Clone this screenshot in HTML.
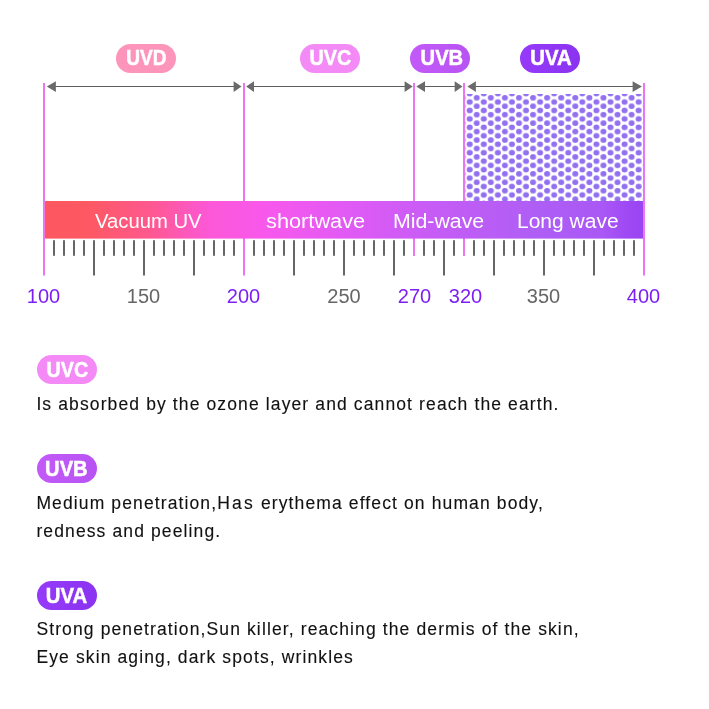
<!DOCTYPE html>
<html lang="en">
<head>
<meta charset="utf-8">
<title>UV spectrum</title>
<style>
html,body{margin:0;padding:0;background:#fff;}
body{width:709px;height:709px;position:relative;overflow:hidden;font-family:"Liberation Sans",sans-serif;}
.pill{position:absolute;width:60px;height:28.5px;border-radius:15px;color:#fff;font-weight:bold;font-size:21.2px;line-height:28.5px;text-align:center;-webkit-text-stroke:0.5px #fff;}
.pill span{display:inline-block;transform:scaleX(0.9);transform-origin:50% 50%;}
.uvd{background:#fd95bb;}
.uvc{background:#f48af5;}
.uvb{background:linear-gradient(90deg,#c25af8,#b853f3);}
.uva{background:linear-gradient(90deg,#963afa,#8a33f0);}
.band{position:absolute;top:202.2px;height:38px;line-height:38px;color:#fff;font-size:20px;white-space:nowrap;transform-origin:0 50%;}
.num{position:absolute;top:284px;width:60px;margin-left:-30px;text-align:center;font-size:20px;line-height:24px;color:#666;}
.num.p{color:#7d1ff2;}
.txt{position:absolute;left:36.4px;font-size:17.5px;line-height:28px;letter-spacing:1.12px;color:#111;white-space:nowrap;-webkit-text-stroke:0.12px #111;}
</style>
</head>
<body>
<svg id="dg" width="709" height="709" viewBox="0 0 709 709" style="position:absolute;left:0;top:0">
<defs>
<linearGradient id="bg" x1="45" y1="0" x2="643" y2="0" gradientUnits="userSpaceOnUse">
<stop offset="0" stop-color="#fd5860"/>
<stop offset="0.075" stop-color="#fd5863"/>
<stop offset="0.176" stop-color="#ff5890"/>
<stop offset="0.276" stop-color="#fc58d8"/>
<stop offset="0.368" stop-color="#f858ec"/>
<stop offset="0.51" stop-color="#e05af5"/>
<stop offset="0.66" stop-color="#c45cf5"/>
<stop offset="0.828" stop-color="#ae5ef5"/>
<stop offset="0.93" stop-color="#aa58f5"/>
<stop offset="0.97" stop-color="#a04af5"/>
<stop offset="1" stop-color="#9a44f2"/>
</linearGradient>
<pattern id="dots" x="466.18" y="97.8" width="14.08" height="8.45" patternUnits="userSpaceOnUse">
<ellipse cx="3.52" cy="4.2" rx="3.0" ry="2.8" fill="#9270f0"/>
<ellipse cx="10.56" cy="0" rx="3.0" ry="2.8" fill="#9270f0"/>
<ellipse cx="10.56" cy="8.45" rx="3.0" ry="2.8" fill="#9270f0"/>
</pattern>
</defs>
<rect x="465" y="94" width="177.5" height="108" fill="url(#dots)"/>
<rect x="43" y="83" width="2" height="192.5" fill="#ee75f2"/>
<rect x="243" y="83" width="2" height="192.5" fill="#ee75f2"/>
<rect x="643" y="83" width="2" height="192.5" fill="#ee75f2"/>
<rect x="413" y="83" width="2" height="173" fill="#ee75f2"/>
<rect x="463" y="83" width="2" height="173" fill="#ee75f2"/>
<rect x="54.9" y="86" width="179.75" height="1" fill="#5e5e5e"/>
<path d="M46.8 86.5 L55.9 81.2 L55.9 91.9 Z" fill="#6a6a6a"/>
<path d="M241.5 86.5 L233.65 81.2 L233.65 91.9 Z" fill="#6a6a6a"/>
<rect x="253.0" y="86" width="152.65" height="1" fill="#5e5e5e"/>
<path d="M246.1 86.5 L254.0 81.2 L254.0 91.9 Z" fill="#6a6a6a"/>
<path d="M412.7 86.5 L404.65 81.2 L404.65 91.9 Z" fill="#6a6a6a"/>
<rect x="424.0" y="86" width="31.70" height="1" fill="#5e5e5e"/>
<path d="M416.3 86.5 L425.0 81.2 L425.0 91.9 Z" fill="#6a6a6a"/>
<path d="M462.5 86.5 L454.7 81.2 L454.7 91.9 Z" fill="#6a6a6a"/>
<rect x="474.9" y="86" width="158.70" height="1" fill="#5e5e5e"/>
<path d="M467.4 86.5 L475.9 81.2 L475.9 91.9 Z" fill="#6a6a6a"/>
<path d="M641.9 86.5 L632.6 81.2 L632.6 91.9 Z" fill="#6a6a6a"/>
<rect x="45" y="201" width="598" height="37.6" fill="url(#bg)"/>
<rect x="53.15" y="240.2" width="1.7" height="15.6" fill="#4d4d4d"/>
<rect x="63.15" y="240.2" width="1.7" height="15.6" fill="#4d4d4d"/>
<rect x="73.15" y="240.2" width="1.7" height="15.6" fill="#4d4d4d"/>
<rect x="83.15" y="240.2" width="1.7" height="15.6" fill="#4d4d4d"/>
<rect x="93.15" y="240.2" width="1.7" height="35.3" fill="#4d4d4d"/>
<rect x="103.15" y="240.2" width="1.7" height="15.6" fill="#4d4d4d"/>
<rect x="113.15" y="240.2" width="1.7" height="15.6" fill="#4d4d4d"/>
<rect x="123.15" y="240.2" width="1.7" height="15.6" fill="#4d4d4d"/>
<rect x="133.15" y="240.2" width="1.7" height="15.6" fill="#4d4d4d"/>
<rect x="143.15" y="240.2" width="1.7" height="35.3" fill="#4d4d4d"/>
<rect x="153.15" y="240.2" width="1.7" height="15.6" fill="#4d4d4d"/>
<rect x="163.15" y="240.2" width="1.7" height="15.6" fill="#4d4d4d"/>
<rect x="173.15" y="240.2" width="1.7" height="15.6" fill="#4d4d4d"/>
<rect x="183.15" y="240.2" width="1.7" height="15.6" fill="#4d4d4d"/>
<rect x="193.15" y="240.2" width="1.7" height="35.3" fill="#4d4d4d"/>
<rect x="203.15" y="240.2" width="1.7" height="15.6" fill="#4d4d4d"/>
<rect x="213.15" y="240.2" width="1.7" height="15.6" fill="#4d4d4d"/>
<rect x="223.15" y="240.2" width="1.7" height="15.6" fill="#4d4d4d"/>
<rect x="233.15" y="240.2" width="1.7" height="15.6" fill="#4d4d4d"/>
<rect x="253.15" y="240.2" width="1.7" height="15.6" fill="#4d4d4d"/>
<rect x="263.15" y="240.2" width="1.7" height="15.6" fill="#4d4d4d"/>
<rect x="273.15" y="240.2" width="1.7" height="15.6" fill="#4d4d4d"/>
<rect x="283.15" y="240.2" width="1.7" height="15.6" fill="#4d4d4d"/>
<rect x="293.15" y="240.2" width="1.7" height="35.3" fill="#4d4d4d"/>
<rect x="303.15" y="240.2" width="1.7" height="15.6" fill="#4d4d4d"/>
<rect x="313.15" y="240.2" width="1.7" height="15.6" fill="#4d4d4d"/>
<rect x="323.15" y="240.2" width="1.7" height="15.6" fill="#4d4d4d"/>
<rect x="333.15" y="240.2" width="1.7" height="15.6" fill="#4d4d4d"/>
<rect x="343.15" y="240.2" width="1.7" height="35.3" fill="#4d4d4d"/>
<rect x="353.15" y="240.2" width="1.7" height="15.6" fill="#4d4d4d"/>
<rect x="363.15" y="240.2" width="1.7" height="15.6" fill="#4d4d4d"/>
<rect x="373.15" y="240.2" width="1.7" height="15.6" fill="#4d4d4d"/>
<rect x="383.15" y="240.2" width="1.7" height="15.6" fill="#4d4d4d"/>
<rect x="393.15" y="240.2" width="1.7" height="35.3" fill="#4d4d4d"/>
<rect x="403.15" y="240.2" width="1.7" height="15.6" fill="#4d4d4d"/>
<rect x="423.15" y="240.2" width="1.7" height="15.6" fill="#4d4d4d"/>
<rect x="433.15" y="240.2" width="1.7" height="15.6" fill="#4d4d4d"/>
<rect x="443.15" y="240.2" width="1.7" height="35.3" fill="#4d4d4d"/>
<rect x="453.15" y="240.2" width="1.7" height="15.6" fill="#4d4d4d"/>
<rect x="473.15" y="240.2" width="1.7" height="15.6" fill="#4d4d4d"/>
<rect x="483.15" y="240.2" width="1.7" height="15.6" fill="#4d4d4d"/>
<rect x="493.15" y="240.2" width="1.7" height="35.3" fill="#4d4d4d"/>
<rect x="503.15" y="240.2" width="1.7" height="15.6" fill="#4d4d4d"/>
<rect x="513.15" y="240.2" width="1.7" height="15.6" fill="#4d4d4d"/>
<rect x="523.15" y="240.2" width="1.7" height="15.6" fill="#4d4d4d"/>
<rect x="533.15" y="240.2" width="1.7" height="15.6" fill="#4d4d4d"/>
<rect x="543.15" y="240.2" width="1.7" height="35.3" fill="#4d4d4d"/>
<rect x="553.15" y="240.2" width="1.7" height="15.6" fill="#4d4d4d"/>
<rect x="563.15" y="240.2" width="1.7" height="15.6" fill="#4d4d4d"/>
<rect x="573.15" y="240.2" width="1.7" height="15.6" fill="#4d4d4d"/>
<rect x="583.15" y="240.2" width="1.7" height="15.6" fill="#4d4d4d"/>
<rect x="593.15" y="240.2" width="1.7" height="35.3" fill="#4d4d4d"/>
<rect x="603.15" y="240.2" width="1.7" height="15.6" fill="#4d4d4d"/>
<rect x="613.15" y="240.2" width="1.7" height="15.6" fill="#4d4d4d"/>
<rect x="623.15" y="240.2" width="1.7" height="15.6" fill="#4d4d4d"/>
<rect x="633.15" y="240.2" width="1.7" height="15.6" fill="#4d4d4d"/>
</svg>
<div class="pill uvd" style="left:116px;top:44px"><span>UVD</span></div>
<div class="pill uvc" style="left:300px;top:44px"><span style="transform:scaleX(0.93)">UVC</span></div>
<div class="pill uvb" style="left:410px;top:44px"><span style="transform:translateX(1.5px) scaleX(0.95)">UVB</span></div>
<div class="pill uva" style="left:520px;top:44px"><span style="transform:translateX(1.5px) scaleX(0.96)">UVA</span></div>

<div class="band" style="left:94.5px;transform:scaleX(1.013)">Vacuum UV</div>
<div class="band" style="left:265.6px;transform:scaleX(1.088)">shortwave</div>
<div class="band" style="left:393.2px;transform:scaleX(1.066)">Mid-wave</div>
<div class="band" style="left:517.4px;transform:scaleX(1.05)">Long wave</div>

<div class="num p" style="left:43.5px">100</div>
<div class="num" style="left:143.5px">150</div>
<div class="num p" style="left:243.5px">200</div>
<div class="num" style="left:344px">250</div>
<div class="num p" style="left:414.5px">270</div>
<div class="num p" style="left:465.5px">320</div>
<div class="num" style="left:543.5px">350</div>
<div class="num p" style="left:643.5px">400</div>

<div class="pill uvc" style="left:37px;top:355px;height:29px;line-height:29px"><span style="transform:scaleX(0.93)">UVC</span></div>
<div class="txt" style="top:390px;transform:translateY(0.4px)">Is absorbed by the ozone layer and cannot reach the earth.</div>

<div class="pill uvb" style="left:37px;top:454px;height:29px;line-height:29px"><span style="transform:translateX(-1px) scaleX(0.95)">UVB</span></div>
<div class="txt" style="top:489px;transform:translateY(0.4px)">Medium penetration,<span style="letter-spacing:2.2px">Has</span> erythema effect on human body,<br>redness and peeling.</div>

<div class="pill uva" style="left:37px;top:581px;height:29px;line-height:29px"><span style="transform:scaleX(0.96)">UVA</span></div>
<div class="txt" style="top:615px">Strong penetration,Sun killer, reaching the dermis of the skin,<br>Eye skin aging, dark spots, wrinkles</div>
</body>
</html>
